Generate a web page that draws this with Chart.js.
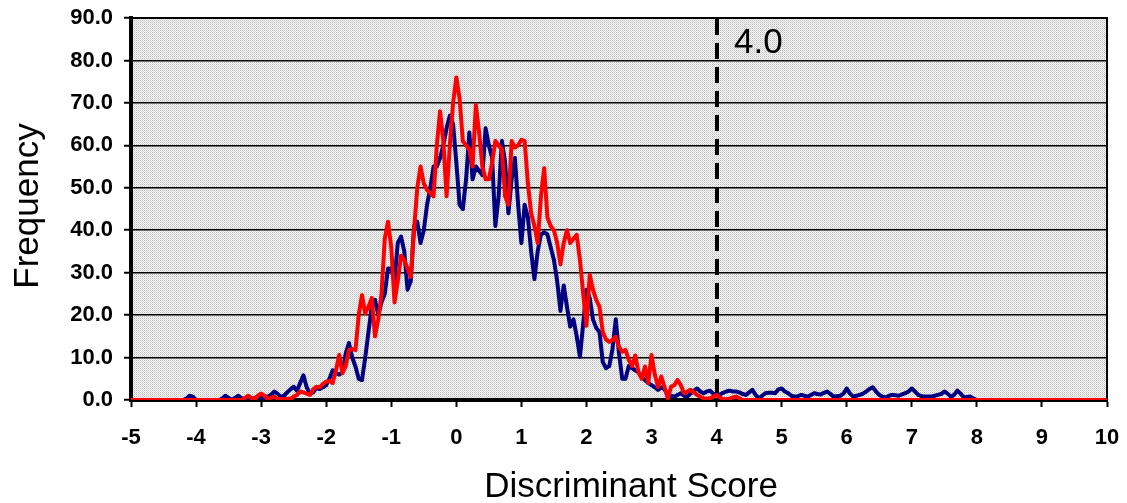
<!DOCTYPE html>
<html><head><meta charset="utf-8">
<script src="https://cdn.jsdelivr.net/npm/chart.js@4.4.0/dist/chart.umd.min.js"></script>
<style>html,body{margin:0;padding:0;background:#fff;overflow:hidden}</style>
</head><body>
<canvas id="c" width="1127" height="503" style="display:block;width:1127px;height:503px"></canvas>
<script>
// x positions: the series are sampled every 0.05 from -5 to 10
const xStart = -5;
const xStep = 0.05;

// Blue series (one row per unit of discriminant score, 20 samples per row)
const blueSeries = [
  0,0,0,0,0,0,0,0,0,0,0,0,0,0,0,0,0,0.3,1.0,0.8,
  0,0,0,0,0,0,0,0,0.3,1.0,0.5,0,0.5,1.0,0.4,0,0.3,0,0.5,0.8,
  0.5,0.3,0.8,1.2,2.0,1.5,0.8,1.0,1.8,2.5,3.1,2.2,4.0,5.8,3.0,1.5,1.8,2.8,2.6,3.0,
  3.5,5.0,7.0,6.3,6.0,6.5,11.0,13.4,10.0,7.9,5.0,4.7,10.0,16.0,22.0,23.6,20.0,23.0,25.0,31.0,
  31,28,37,38.5,35,26,28,41,42,37,40,46,50,55,55,57,60,64,67,65,
  56,46,45,52,63,52,55,54,53,64,60,57,41,48,61,56,44,52,57,46,
  37,46,43,35,28.5,35,39,39.5,39,36,33,28,21,27,22,17.3,19,15,10.2,18,
  26,24,19,17,16,9,7.5,8,12,19,11,5,5,8,7.5,7,6.5,5.5,4.7,4,
  3.5,3.0,2.4,3.0,2.5,1.2,1.0,0.8,1.2,1.6,1.0,0.8,1.5,2.2,2.7,2.0,1.6,2.0,2.2,1.5,
  1.2,1.3,1.7,2.0,2.2,2.0,2.0,1.8,1.4,1.2,1.8,2.4,1.2,0.4,1.0,1.6,1.7,1.7,1.6,2.5,
  2.7,2.0,1.6,1.0,0.8,0.9,1.2,1.0,0.8,1.2,1.6,1.4,1.3,1.7,2.0,1.4,0.8,0.9,1.0,1.5,
  2.7,1.5,0.8,1.0,1.2,1.5,2.0,2.6,3.0,2.0,1.2,0.8,0.6,1.0,1.2,1.1,1.0,1.3,1.6,2.0,
  2.7,2.0,1.2,0.9,0.8,0.8,0.8,1.0,1.2,1.4,2.0,1.5,0.8,1.2,2.2,1.5,0.6,0.7,0.8,0.3,
  0,0,0,0,0,0,0,0,0,0,0,0,0,0,0,0,0,0,0,0,
  0,0,0,0,0,0,0,0,0,0,0,0,0,0,0,0,0,0,0,0,
  0
];

// Red series
const redSeries = [
  0,0,0,0,0,0,0,0,0,0,0,0,0,0,0,0,0,0,0,0,
  0,0,0,0,0,0,0,0,0,0,0,0,0,0,0,0.5,1.0,0.5,0.2,1.0,
  1.5,1.0,0.3,0.5,0.8,0.3,0.2,0.2,0.3,0.3,0.8,1.2,2.0,1.8,1.5,1.2,2.5,3.1,3.0,3.8,
  4.3,4.5,4.0,7,10.6,6.3,8,11.8,12,11.8,20,24.7,20.4,22,24,15,19,25,38,42,
  36,23,28,34,33,31,29,40,50,55,51,49.5,48.7,48,60,68,61,48,60,70,
  76,71,61,60,59,55,69.5,63,55,52,52,56,61,60,59,48,46,61,59.5,60,
  61.3,61,51,44,41,37,48,54.6,43,41,40,37,32,37,40,37,38,38.9,33,25,
  17.5,29.5,26,23.6,22,16,14.3,13.7,14.1,14.9,12.5,11.4,11.8,9.5,8,10.5,6.5,5,7.9,4,
  10.6,6,3.1,5.5,3,0.4,3.1,3.5,4.7,3.5,1.6,2.0,2.4,1.8,1.2,0.8,0.4,0.3,0.4,0.8,
  1.2,0.6,0.2,0.2,0.3,0.6,0.8,0.4,0,0,0,0,0,0,0,0,0,0,0,0,
  0,0,0,0,0,0,0,0,0,0,0,0,0,0,0,0,0,0,0,0,
  0,0,0,0,0,0,0,0,0,0,0,0,0,0,0,0,0,0,0,0,
  0,0,0,0,0,0,0,0,0,0,0,0,0,0,0,0,0,0,0,0,
  0,0,0,0,0,0,0,0,0,0,0,0,0,0,0,0,0,0,0,0,
  0,0,0,0,0,0,0,0,0,0,0,0,0,0,0,0,0,0,0,0,
  0
];

const xTickValues = [-5,-4,-3,-2,-1,0,1,2,3,4,5,6,7,8,9,10];
const yTickValues = [0,10,20,30,40,50,60,70,80,90];
const thresholdValue = 4.0;
const thresholdLabel = '4.0';
const xTitle = 'Discriminant Score';
const yTitle = 'Frequency';

const FONT = "'Liberation Sans', Arial, sans-serif";

function toPoints(arr) {
  return arr.map((v, i) => ({ x: +(xStart + i * xStep).toFixed(2), y: v }));
}

function makePattern() {
  const t = document.createElement('canvas');
  t.width = 2; t.height = 2;
  const g = t.getContext('2d');
  g.fillStyle = '#f6f6f6'; g.fillRect(0, 0, 2, 2);
  g.fillStyle = '#bcbcbc'; g.fillRect(0, 0, 1, 1);
  g.fillStyle = '#dadada'; g.fillRect(1, 1, 1, 1);
  return t;
}

const bgPlugin = {
  id: 'bgPlugin',
  beforeDraw(chart) {
    const { ctx, chartArea: a } = chart;
    ctx.save();
    ctx.fillStyle = ctx.createPattern(makePattern(), 'repeat');
    ctx.fillRect(a.left, a.top, a.right - a.left, a.bottom - a.top);
    ctx.restore();
  },
  beforeDatasetsDraw(chart) {
    const { ctx, chartArea: a, scales } = chart;
    ctx.save();
    ctx.strokeStyle = '#000';
    ctx.lineWidth = 2;
    ctx.beginPath();
    ctx.moveTo(a.left, a.top);
    ctx.lineTo(a.right, a.top);
    ctx.lineTo(a.right, a.bottom);
    ctx.stroke();
    const px = Math.round(scales.x.getPixelForValue(thresholdValue));
    ctx.lineWidth = 4;
    ctx.setLineDash([16, 8]);
    ctx.beginPath();
    ctx.moveTo(px, a.top + 1);
    ctx.lineTo(px, a.bottom);
    ctx.stroke();
    ctx.setLineDash([]);
    ctx.fillStyle = '#000';
    ctx.font = '35px ' + FONT;
    ctx.textAlign = 'left';
    ctx.textBaseline = 'middle';
    ctx.fillText(thresholdLabel, px + 17, a.top + 25);
    ctx.restore();
  },
  afterDraw(chart) {
    const { ctx, chartArea: a } = chart;
    ctx.save();
    ctx.fillStyle = '#000';
    ctx.font = '35px ' + FONT;
    ctx.textAlign = 'center';
    ctx.textBaseline = 'alphabetic';
    ctx.fillText(xTitle, (a.left + a.right) / 2 + 12, 497);
    ctx.translate(38, (a.top + a.bottom) / 2 - 3);
    ctx.rotate(-Math.PI / 2);
    ctx.fillText(yTitle, 0, 0);
    ctx.restore();
  }
};

new Chart(document.getElementById('c'), {
  type: 'line',
  data: {
    datasets: [
      {
        label: 'red',
        data: toPoints(redSeries),
        borderColor: '#ff0000',
        backgroundColor: '#ff0000',
        borderWidth: 4,
        borderJoinStyle: 'round',
        pointStyle: 'rect',
        pointRadius: 2,
        pointBorderWidth: 0,
        tension: 0,
        fill: false
      },
      {
        label: 'blue',
        data: toPoints(blueSeries),
        borderColor: '#000080',
        backgroundColor: '#000080',
        borderWidth: 4,
        borderJoinStyle: 'round',
        pointStyle: 'rect',
        pointRadius: 2,
        pointBorderWidth: 0,
        tension: 0,
        fill: false
      }
    ]
  },
  options: {
    responsive: false,
    animation: false,
    devicePixelRatio: 1,
    layout: { padding: { top: 18, right: 20, left: 0, bottom: 0 } },
    plugins: { legend: { display: false }, tooltip: { enabled: false } },
    scales: {
      x: {
        type: 'linear',
        min: -5, max: 10,
        afterBuildTicks(s) { s.ticks = xTickValues.map(v => ({ value: v })); },
        afterFit(s) { s.height = 103; s.paddingLeft = 0; s.paddingRight = 0; },
        ticks: {
          color: '#000',
          font: { family: FONT, size: 22, weight: 'bold' },
          padding: 18,
          maxRotation: 0,
          autoSkip: false,
          callback: v => String(v)
        },
        grid: {
          display: true,
          drawOnChartArea: false,
          drawTicks: true,
          tickLength: 7,
          tickWidth: 2,
          tickColor: '#000'
        },
        border: { display: true, width: 4, color: '#000' },
        title: { display: false, text: xTitle }
      },
      y: {
        min: 0, max: 90,
        afterBuildTicks(s) { s.ticks = yTickValues.map(v => ({ value: v })); },
        afterFit(s) { s.width = 131; s.paddingTop = 0; s.paddingBottom = 0; },
        ticks: {
          color: '#000',
          font: { family: FONT, size: 22, weight: 'bold' },
          padding: 11,
          callback: v => Number(v).toFixed(1)
        },
        grid: {
          display: true,
          drawOnChartArea: true,
          color: '#000',
          lineWidth: 1.5,
          tickLength: 7,
          tickWidth: 2,
          tickColor: '#000'
        },
        border: { display: true, width: 4, color: '#000' },
        title: { display: false, text: yTitle }
      }
    }
  },
  plugins: [bgPlugin]
});
</script>
</body></html>
